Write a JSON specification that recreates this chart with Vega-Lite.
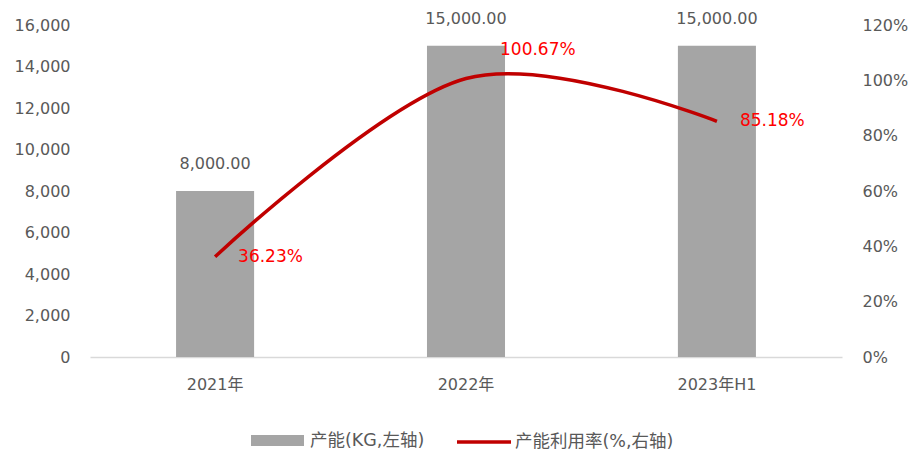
{
  "$schema": "https://vega.github.io/schema/vega-lite/v6.json",
  "autosize": {"type": "none"},
  "padding": {"left": 90, "top": 25, "right": 78, "bottom": 94},
  "width": 752,
  "height": 332,
  "config": {
    "view": {"stroke": null},
    "font": "DejaVu Sans, Noto Sans CJK SC",
    "axis": {"labelFont": "DejaVu Sans, Noto Sans CJK SC", "labelFontSize": 16, "labelColor": "#595959", "grid": false, "ticks": false, "title": null},
    "legend": {"labelFont": "DejaVu Sans, Noto Sans CJK SC", "labelFontSize": 17.5, "labelColor": "#595959", "title": null}
  },
  "data": {
    "values": [
      {"period": "2021年", "capacity": 8000, "rate": 0.3623, "capLabel": "8,000.00", "rateLabel": "36.23%"},
      {"period": "2022年", "capacity": 15000, "rate": 1.0067, "capLabel": "15,000.00", "rateLabel": "100.67%"},
      {"period": "2023年H1", "capacity": 15000, "rate": 0.8518, "capLabel": "15,000.00", "rateLabel": "85.18%"}
    ]
  },
  "encoding": {
    "x": {
      "field": "period", "type": "nominal", "sort": null,
      "scale": {"paddingInner": 0.689, "paddingOuter": 0.343},
      "axis": {"labelAngle": 0, "domainColor": "#D9D9D9", "domainWidth": 1.5, "labelPadding": 19}
    }
  },
  "layer": [
    {
      "layer": [
        {
          "mark": {"type": "bar", "color": "#A5A5A5"},
          "encoding": {
            "y": {"field": "capacity", "type": "quantitative", "scale": {"domain": [0, 16000]},
                  "axis": {"values": [0, 2000, 4000, 6000, 8000, 10000, 12000, 14000, 16000], "format": ",d", "domain": false, "labelPadding": 20}},
            "color": {"datum": "产能(KG,左轴)", "type": "nominal", "scale": {"range": ["#A5A5A5"]},
                      "legend": {"orient": "none", "legendX": 160, "legendY": 388, "symbolType": "M-1,-0.21H1V0.21H-1Z", "symbolSize": 2809, "symbolOpacity": 1, "labelOffset": 5}}
          }
        },
        {
          "mark": {"type": "text", "baseline": "bottom", "dy": -19, "fontSize": 16, "color": "#595959"},
          "encoding": {
            "y": {"field": "capacity", "type": "quantitative"},
            "text": {"field": "capLabel"}
          }
        }
      ]
    },
    {
      "layer": [
        {
          "mark": {"type": "line", "interpolate": "cardinal", "strokeWidth": 3.5},
          "encoding": {
            "y": {"field": "rate", "type": "quantitative", "scale": {"domain": [0, 1.2]},
                  "axis": {"orient": "right", "values": [0, 0.2, 0.4, 0.6, 0.8, 1.0, 1.2], "format": ".0%", "domain": false, "labelPadding": 20}},
            "stroke": {"datum": "产能利用率(%,右轴)", "type": "nominal", "scale": {"range": ["#C00000"]},
                       "legend": {"orient": "none", "legendX": 365, "legendY": 388, "symbolType": "stroke", "symbolSize": 2916, "symbolStrokeWidth": 3.5, "labelOffset": 2}}
          }
        },
        {
          "transform": [{"filter": "datum.period !== '2022年'"}],
          "mark": {"type": "text", "align": "left", "baseline": "middle", "dx": 23, "fontSize": 17, "color": "#FF0000"},
          "encoding": {
            "y": {"field": "rate", "type": "quantitative"},
            "text": {"field": "rateLabel"}
          }
        },
        {
          "transform": [{"filter": "datum.period === '2022年'"}],
          "mark": {"type": "text", "align": "left", "baseline": "middle", "dx": 34, "dy": -28, "fontSize": 17, "color": "#FF0000"},
          "encoding": {
            "y": {"field": "rate", "type": "quantitative"},
            "text": {"field": "rateLabel"}
          }
        }
      ],
      "resolve": {"scale": {"y": "shared"}}
    }
  ],
  "resolve": {"scale": {"y": "independent"}}
}
